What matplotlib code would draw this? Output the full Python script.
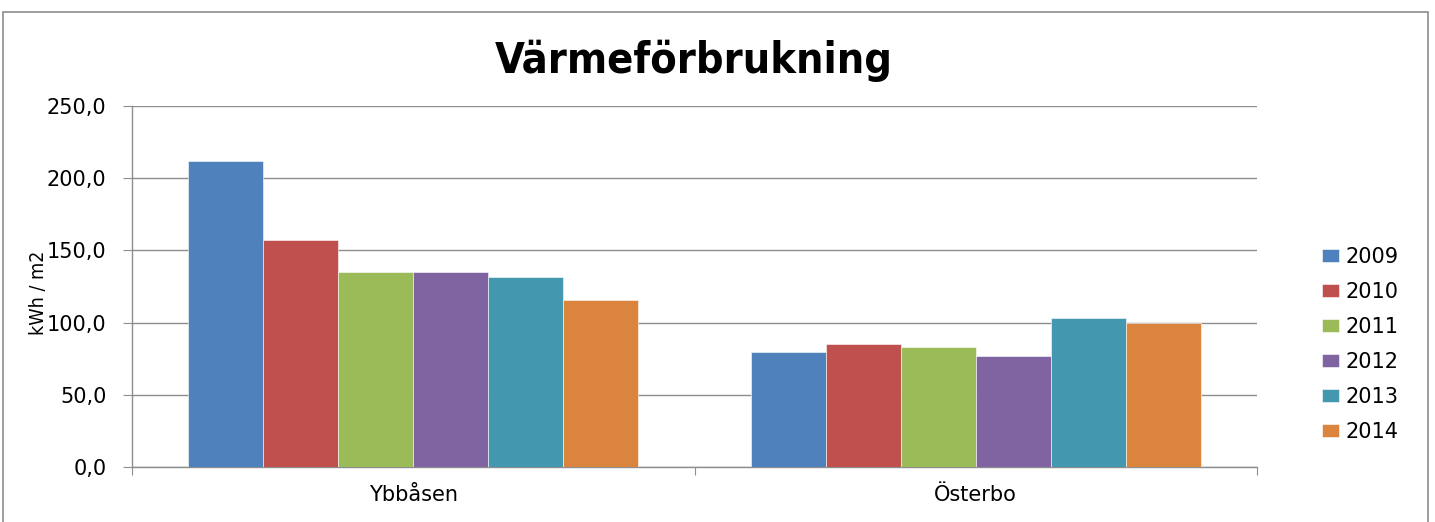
import matplotlib
matplotlib.use("Agg")
import matplotlib.pyplot as plt
from matplotlib.patches import Rectangle
from matplotlib import font_manager
import numpy as np

categories = ["Ybbåsen", "Österbo"]
years = ["2009", "2010", "2011", "2012", "2013", "2014"]
values = {
    "2009": [212.0, 79.6],
    "2010": [157.2, 85.0],
    "2011": [134.8, 82.9],
    "2012": [134.8, 76.9],
    "2013": [131.6, 103.2],
    "2014": [115.4, 99.9],
}
colors = ["#4F81BD", "#C0504D", "#9BBB59", "#8064A2", "#4398AF", "#DB843D"]
yticks = [0, 50, 100, 150, 200, 250]
ytick_labels = ["0,0", "50,0", "100,0", "150,0", "200,0", "250,0"]
title = "Värmeförbrukning"
ylabel = "kWh / m2"

# Prefer a condensed face for the title / axis label if one is installed
names = {f.name for f in font_manager.fontManager.ttflist}
cond = "DejaVu Sans"
cond_stretch = "normal"
for cand in ["Liberation Sans Narrow", "DejaVu Sans Condensed"]:
    if cand in names:
        cond = cand
        break
else:
    if any(f.name == "DejaVu Sans" and f.stretch == "condensed"
           for f in font_manager.fontManager.ttflist):
        cond_stretch = "condensed"
narrow = cond != "DejaVu Sans" or cond_stretch == "condensed"

W, H = 1435, 522
fig = plt.figure(figsize=(W / 100, H / 100), dpi=100)
fig.patch.set_facecolor("white")

# outer chart border
fig.patches.append(Rectangle((3 / W, -0.05), (1428 - 3) / W, 1 - 12 / H + 0.05,
                             transform=fig.transFigure, fill=False,
                             edgecolor="#8C8C8C", linewidth=1.2))

ax = fig.add_axes([132 / W, (H - 467) / H, (1257 - 132) / W, 361 / H])
x = np.arange(len(categories))
bw = 0.8 / len(years)
for i, (yr, c) in enumerate(zip(years, colors)):
    ax.bar(x + (i - 2.5) * bw, values[yr], width=bw, color=c, label=yr,
           edgecolor="white", linewidth=0.4, zorder=3)

ax.set_xlim(-0.5, len(categories) - 0.5)
ax.set_ylim(0, 250)
ax.set_yticks(yticks)
ax.set_yticklabels(ytick_labels, fontsize=15, family="DejaVu Sans")
ax.yaxis.grid(True, color="#8E8E8E", linewidth=1.0, zorder=0)
ax.set_axisbelow(True)

ax.set_xticks([-0.5, 0.5, 1.5])
ax.set_xticklabels([])
ax.set_xticks(x, minor=True)
ax.set_xticklabels(categories, minor=True, fontsize=15)
ax.tick_params(axis="x", which="minor", length=0, pad=13)
ax.tick_params(axis="x", which="major", length=6, color="#8E8E8E")
ax.tick_params(axis="y", length=6.5, color="#8E8E8E", pad=12)

for s in ["top", "right"]:
    ax.spines[s].set_visible(False)
for s in ["left", "bottom"]:
    ax.spines[s].set_color("#8E8E8E")
    ax.spines[s].set_linewidth(1.0)

fig.text(694 / W, 1 - 61 / H, title, ha="center", va="center",
         fontsize=31 if narrow else 27.5, fontweight="bold", family=cond,
         fontstretch=cond_stretch)
fig.text(38 / W, 1 - 293 / H, ylabel, ha="center", va="center",
         rotation=90, fontsize=14 if narrow else 13, family=cond,
         fontstretch=cond_stretch)

leg = fig.legend(loc="center left", bbox_to_anchor=(1322 / W, 1 - 344.5 / H),
                 bbox_transform=fig.transFigure, frameon=False,
                 fontsize=15, handlelength=0.8, handleheight=0.55,
                 handletextpad=0.35, labelspacing=0.72, borderpad=0,
                 borderaxespad=0)

fig.savefig("out.png", dpi=100)
